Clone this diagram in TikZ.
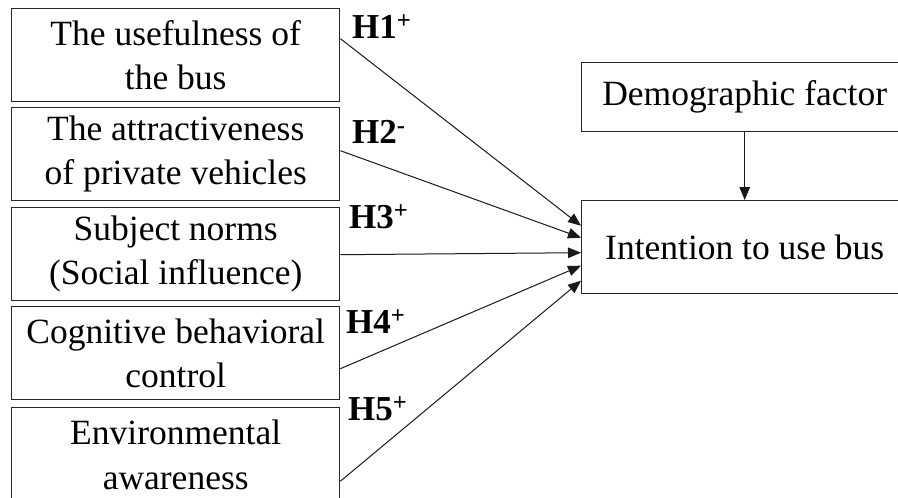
\documentclass[tikz,border=0pt]{standalone}
\usepackage{fontspec}
\setmainfont{Liberation Serif}
\usetikzlibrary{arrows.meta}
\begin{document}
\begin{tikzpicture}[x=1pt,y=-1pt,
  box/.style={draw=black!85,line width=1.4pt,minimum width=328pt,minimum height=93pt,inner sep=0pt,anchor=north west,align=center,font=\fontsize{35.5}{44.5}\selectfont},
  rbox/.style={box,minimum width=326pt},
  conn/.style={draw=black!90,line width=1pt,-{Triangle[length=13pt,width=10.5pt]}},
  hlab/.style={anchor=base west,inner sep=0pt,font=\fontsize{35}{38}\selectfont\bfseries}]
\useasboundingbox (0,0) rectangle (898,498);
\fill[white] (0,0) rectangle (898,498);
\node[box] (b1) at (11,8) {The usefulness of\\the bus};
\node[box] (b2) at (11,107) {The attractiveness\\of private vehicles};
\node[box] (b3) at (11,207) {Subject norms\\(Social influence)};
\node[box] (b4) at (11,306) {Cognitive behavioral\\control};
\node[box,minimum height=94pt] (b5) at (11,407) {Environmental\\awareness};
\node[rbox,minimum height=69.5pt] (demo) at (581,61.5) {Demographic factor};
\node[rbox] (int) at (581,200) {Intention to use bus};
\draw[conn] ([yshift=16.5pt]b1.east) -- ([yshift=21.5pt]int.west);
\draw[conn] ([yshift=3.5pt]b2.east) -- ([yshift=9.5pt]int.west);
\draw[conn] ([yshift=-0.5pt]b3.east) -- ([yshift=-5.5pt]int.west);
\draw[conn] ([yshift=-15.5pt]b4.east) -- ([yshift=-18.5pt]int.west);
\draw[conn] ([yshift=-26.5pt]b5.east) -- ([yshift=-33.5pt]int.west);
\draw[conn] (demo.south) -- (int.north);
\node[hlab] (h1) at (352,38) {H1\textsuperscript{+}};
\node[hlab] (h2) at (352,143) {H2\textsuperscript{-}};
\node[hlab] (h3) at (349,228) {H3\textsuperscript{+}};
\node[hlab] (h4) at (346,333) {H4\textsuperscript{+}};
\node[hlab] (h5) at (348,420) {H5\textsuperscript{+}};
\end{tikzpicture}
\end{document}
